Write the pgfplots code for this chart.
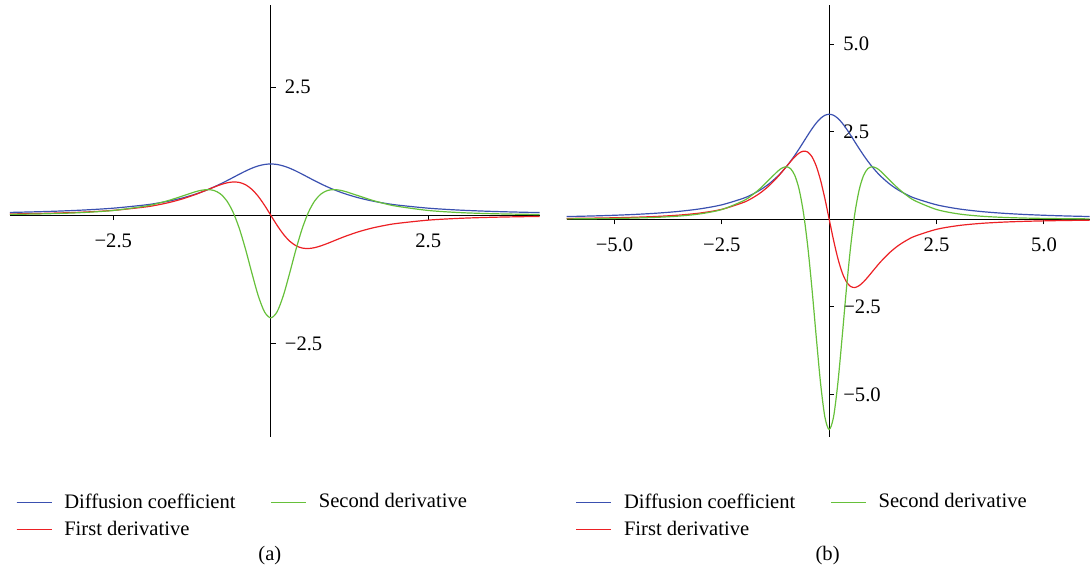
\documentclass[border=0pt]{standalone}
\usepackage{fontspec}
\setmainfont{Liberation Serif}
\usepackage{pgfplots}
\pgfplotsset{compat=1.18}
\usepackage{pgfplotstable}
\definecolor{cblue}{RGB}{58,80,176}
\definecolor{cred}{RGB}{236,32,36}
\definecolor{cgreen}{RGB}{102,192,58}

\pgfplotstableread{
x D D1 D2
-4.5 0.047059 0.019931 0.012453
-4.0 0.058824 0.027682 0.019133
-3.5 0.075472 0.039872 0.030737
-3.0 0.100000 0.060000 0.052000
-2.5 0.137931 0.095125 0.093157
-2.0 0.200000 0.160000 0.176000
-1.8 0.235849 0.200249 0.228796
-1.6 0.280899 0.252493 0.296112
-1.4 0.337838 0.319576 0.376335
-1.2 0.409836 0.403117 0.457087
-1.1 0.452489 0.450441 0.487314
-1.0 0.500000 0.500000 0.500000
-0.9 0.552486 0.549434 0.482314
-0.8 0.609756 0.594884 0.417144
-0.7 0.671141 0.630602 0.284164
-0.6 0.735294 0.648789 0.063607
-0.5 0.800000 0.640000 -0.256000
-0.4 0.862069 0.594530 -0.666284
-0.3 0.917431 0.505008 -1.127390
-0.2 0.961538 0.369822 -1.564630
-0.1 0.990099 0.196060 -1.882950
0.0 1.000000 0.000000 -2.000000
0.1 0.990099 -0.196060 -1.882950
0.2 0.961538 -0.369822 -1.564630
0.3 0.917431 -0.505008 -1.127390
0.4 0.862069 -0.594530 -0.666284
0.5 0.800000 -0.640000 -0.256000
0.6 0.735294 -0.648789 0.063607
0.7 0.671141 -0.630602 0.284164
0.8 0.609756 -0.594884 0.417144
0.9 0.552486 -0.549434 0.482314
1.0 0.500000 -0.500000 0.500000
1.1 0.452489 -0.450441 0.487314
1.2 0.409836 -0.403117 0.457087
1.4 0.337838 -0.319576 0.376335
1.6 0.280899 -0.252493 0.296112
1.8 0.235849 -0.200249 0.228796
2.0 0.200000 -0.160000 0.176000
2.5 0.137931 -0.095125 0.093157
3.0 0.100000 -0.060000 0.052000
3.5 0.075472 -0.039872 0.030737
4.0 0.058824 -0.027682 0.019133
4.5 0.047059 -0.019931 0.012453
}\tabA

\pgfplotstableread{
x D D1 D2
-6.2 0.07606 0.02392 0.01118
-6.0 0.08108 0.02630 0.01268
-5.5 0.09600 0.03379 0.01765
-5.0 0.11538 0.04438 0.02526
-4.5 0.14118 0.05979 0.03736
-4.0 0.17647 0.08305 0.05740
-3.5 0.22642 0.11962 0.09221
-3.0 0.30000 0.18000 0.15600
-2.5 0.41379 0.28538 0.27947
-2.0 0.60000 0.48000 0.52800
-1.8 0.70755 0.60075 0.68639
-1.6 0.84270 0.75748 0.88834
-1.4 1.01351 0.95873 1.12901
-1.2 1.22951 1.20935 1.37126
-1.1 1.35747 1.35132 1.46194
-1.0 1.50000 1.50000 1.50000
-0.9 1.65746 1.64830 1.44694
-0.8 1.82927 1.78465 1.25143
-0.7 2.01342 1.89181 0.85249
-0.6 2.20588 1.94637 0.19082
-0.5 2.40000 1.92000 -0.76800
-0.4 2.58621 1.78359 -1.99885
-0.3 2.75229 1.51502 -3.38217
-0.2 2.88462 1.10947 -4.69389
-0.1 2.97030 0.58818 -5.64885
0.0 3.00000 0.00000 -6.00000
0.1 2.97030 -0.58818 -5.64885
0.2 2.88462 -1.10947 -4.69389
0.3 2.75229 -1.51502 -3.38217
0.4 2.58621 -1.78359 -1.99885
0.5 2.40000 -1.92000 -0.76800
0.6 2.20588 -1.94637 0.19082
0.7 2.01342 -1.89181 0.85249
0.8 1.82927 -1.78465 1.25143
0.9 1.65746 -1.64830 1.44694
1.0 1.50000 -1.50000 1.50000
1.1 1.35747 -1.35132 1.46194
1.2 1.22951 -1.20935 1.37126
1.4 1.01351 -0.95873 1.12901
1.6 0.84270 -0.75748 0.88834
1.8 0.70755 -0.60075 0.68639
2.0 0.60000 -0.48000 0.52800
2.5 0.41379 -0.28538 0.27947
3.0 0.30000 -0.18000 0.15600
3.5 0.22642 -0.11962 0.09221
4.0 0.17647 -0.08305 0.05740
4.5 0.14118 -0.05979 0.03736
5.0 0.11538 -0.04438 0.02526
5.5 0.09600 -0.03379 0.01765
6.0 0.08108 -0.02630 0.01268
6.2 0.07606 -0.02392 0.01118
}\tabB

\newcommand{\myfont}{\fontsize{10.3}{12}\selectfont}

\pgfplotsset{
  myaxis/.style={
    scale only axis,
    axis lines=middle,
    axis line style={-, line width=0.5pt, black},
    major tick length=2.5pt,
    xtick style={yshift=-1.25pt, black, line width=0.5pt},
    ytick style={xshift=1.25pt, black, line width=0.5pt},
    tick label style={font=\myfont},
    xticklabel style={yshift=-4.3pt},
    yticklabel style={anchor=west, xshift=4.8pt},
    legend columns=2,
    transpose legend,
    legend cell align=left,
    legend style={draw=none, fill=none, inner sep=0pt, outer sep=0pt,
      font=\myfont, row sep=2pt,
      nodes={inner sep=1.5pt},
      /tikz/every even column/.append style={column sep=16pt}},
    legend image code/.code={\draw[#1, line width=0.7pt] (0pt,0pt) -- (17.5pt,0pt);
      \draw[#1, line width=0.7pt] (0pt,0pt) -- (17.5pt,0pt);
      \path (22pt,0pt) node[inner sep=0pt, minimum size=0pt, draw=none, fill=none] {};},
  }
}

\begin{document}
\begin{tikzpicture}
\path (0pt,0pt) rectangle (545pt,288pt);

\begin{axis}[myaxis,
  at={(5pt,69.5pt)}, anchor=south west,
  width=265pt, height=216pt,
  xmin=-4.14, xmax=4.27, ymin=-4.32, ymax=4.10,
  xtick={-2.5,2.5}, xticklabels={−2.5,2.5},
  ytick={-2.5,2.5}, yticklabels={−2.5,2.5},
  legend style={at={(0.0113,-0.1833)}, anchor=west},
]
\addplot[draw=cblue, line width=0.6pt, smooth] table[x=x, y=D] {\tabA};
\addlegendentry{Diffusion coefficient}
\addplot[draw=cred, line width=0.6pt, smooth] table[x=x, y=D1] {\tabA};
\addlegendentry{First derivative}
\addplot[draw=cgreen, line width=0.6pt, smooth] table[x=x, y=D2] {\tabA};
\addlegendentry{Second derivative}
\addlegendimage{empty legend}
\addlegendentry{}
\end{axis}

\begin{axis}[myaxis,
  at={(283.5pt,69.5pt)}, anchor=south west,
  width=261.5pt, height=216pt,
  xmin=-6.11, xmax=6.06, ymin=-6.21, ymax=6.12,
  xtick={-5,-2.5,2.5,5}, xticklabels={−5.0,−2.5,2.5,5.0},
  ytick={-5,-2.5,2.5,5}, yticklabels={−5.0,−2.5,2.5,5.0},
  legend style={at={(0.0172,-0.1833)}, anchor=west},
]
\addplot[draw=cblue, line width=0.6pt, smooth] table[x=x, y=D] {\tabB};
\addlegendentry{Diffusion coefficient}
\addplot[draw=cred, line width=0.6pt, smooth] table[x=x, y=D1] {\tabB};
\addlegendentry{First derivative}
\addplot[draw=cgreen, line width=0.6pt, smooth] table[x=x, y=D2] {\tabB};
\addlegendentry{Second derivative}
\addlegendimage{empty legend}
\addlegendentry{}
\end{axis}

\node[font=\myfont] at (135pt,10pt) {(a)};
\node[font=\myfont] at (414pt,10pt) {(b)};
\end{tikzpicture}
\end{document}
